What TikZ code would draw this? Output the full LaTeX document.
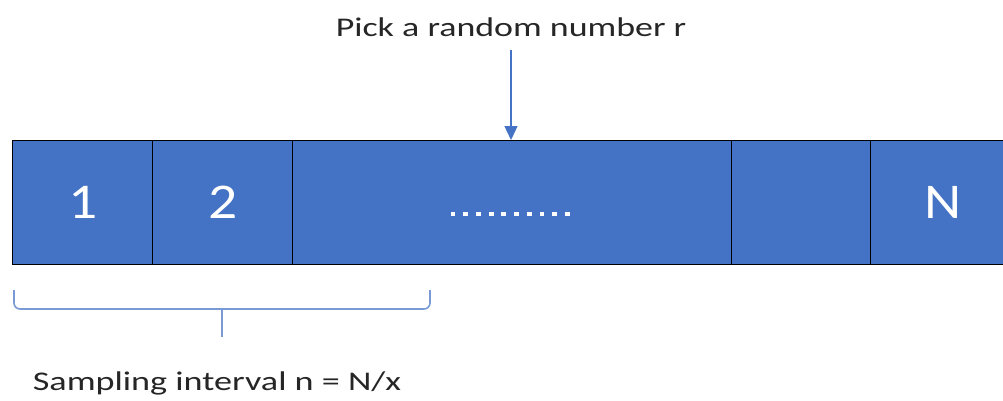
\documentclass[tikz,border=0pt]{standalone}
\usepackage{fontspec}
\usepackage{graphicx}
\setmainfont{Carlito}
\usetikzlibrary{arrows.meta}
\definecolor{cellblue}{HTML}{4472C4}
\definecolor{bracecol}{HTML}{7A9AD6}
\definecolor{txtgray}{HTML}{262626}
\newcommand{\wide}[2]{\scalebox{#1}[1]{#2}}
\tikzset{
  cell/.style={draw=black, line width=1.3pt, fill=cellblue, text=white,
    minimum height=124pt, inner sep=0pt, anchor=north west,
    font=\fontsize{50}{50}\selectfont},
  lbl/.style={text=txtgray, font=\fontsize{27}{27}\selectfont, inner sep=0pt},
  ptr/.style={draw=cellblue, line width=1.3pt, -{Triangle[width=13pt,length=14pt]}},
  bracepath/.style={draw=bracecol, line width=1.6pt}
}
\begin{document}
\begin{tikzpicture}[x=1pt,y=-1pt]
\useasboundingbox (0,0) rectangle (1003,400);
\begin{scope}
\clip (0,0) rectangle (1003,400);
\node[cell, minimum width=140pt] (c1) at (12,140) {\wide{1.15}{1}};
\node[cell, minimum width=140pt] (c2) at (152,140) {\wide{1.15}{2}};
\node[cell, minimum width=439pt] (c3) at (292,140) {};
\node[cell, minimum width=139pt] (c4) at (731,140) {};
\node[cell, minimum width=145pt] (c5) at (870,140) {\wide{1.15}{N}};
\end{scope}
\foreach \i in {0,...,9}{
  \fill[white] (453+\i*12.7-2.4,214-2.4) rectangle ++(4.8,4.8);
}
\node[lbl] (pick) at (511,27) {\wide{1.33}{Pick a random number r}};
\coordinate (pstart) at (511,50);
\draw[ptr] (pstart) -- (511,140);
\node[lbl] (samp) at (217,383) {\wide{1.34}{Sampling interval n = N/x}};
\coordinate (bl) at (14,290);
\coordinate (br) at (430,290);
\draw[bracepath, rounded corners=6pt] (bl) -- (14,309) -- (222,309) -- (430,309) -- (br);
\draw[bracepath] (222,309) -- (222,337);
\end{tikzpicture}
\end{document}
